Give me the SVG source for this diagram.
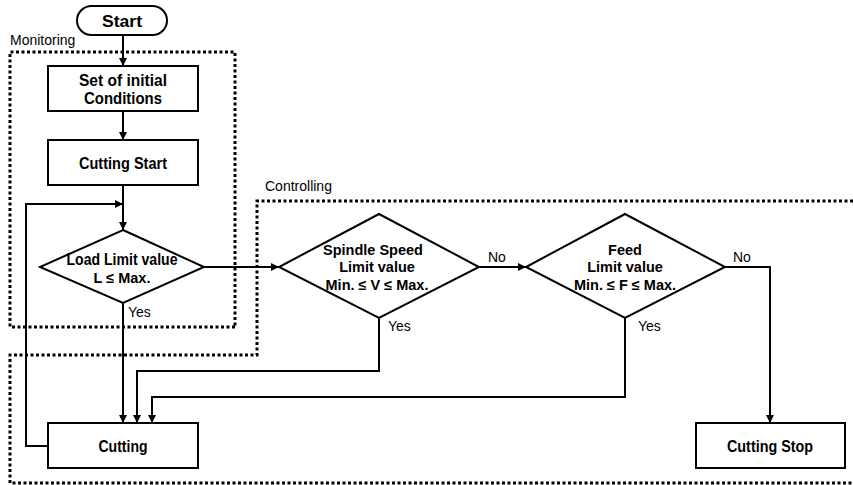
<svg xmlns="http://www.w3.org/2000/svg" width="853" height="485" viewBox="0 0 853 485">
<defs>
<marker id="ah" viewBox="0 0 10 10" refX="10" refY="5" markerWidth="8" markerHeight="8" markerUnits="userSpaceOnUse" orient="auto">
<path d="M0,0 L10,5 L0,10 z" fill="#000"/>
</marker>
<style>
.shape{fill:#fff;stroke:#000;stroke-width:2}
.line{fill:none;stroke:#000;stroke-width:2}
.dot{fill:none;stroke:#000;stroke-width:3;stroke-dasharray:3 2.5}
.bt{font-family:"Liberation Sans",Arial,sans-serif;font-weight:bold;font-size:17px;text-anchor:middle}
.dt{font-family:"Liberation Sans",Arial,sans-serif;font-weight:bold;font-size:14.5px;text-anchor:middle}
.lb{font-family:"Liberation Sans",Arial,sans-serif;font-size:14px}
</style>
</defs>
<g id="regions">
<path class="dot" d="M235,327 H10 V52 H235 Z"/>
<text class="lb" x="10" y="45">Monitoring</text>
<path class="dot" d="M853,201 H257 V355 H10 V483 H853"/>
<text class="lb" x="265" y="191">Controlling</text>
</g>
<g id="connectors">
<path class="line" d="M123,35 V66" marker-end="url(#ah)"/>
<path class="line" d="M123,111 V140" marker-end="url(#ah)"/>
<path class="line" d="M123,185 V230" marker-end="url(#ah)"/>
<path class="line" d="M204,267 H279" marker-end="url(#ah)"/>
<path class="line" d="M479,267 H526" marker-end="url(#ah)"/>
<path class="line" d="M725,267 H770 V423" marker-end="url(#ah)"/>
<path class="line" d="M123,303 V423" marker-end="url(#ah)"/>
<path class="line" d="M379,318 V371 H137 V423" marker-end="url(#ah)"/>
<path class="line" d="M625,318 V397 H152 V423" marker-end="url(#ah)"/>
<path class="line" d="M48,446 H26 V204 H123" marker-end="url(#ah)"/>
<text class="lb" x="128" y="317">Yes</text>
<text class="lb" x="388" y="331">Yes</text>
<text class="lb" x="638" y="331">Yes</text>
<text class="lb" x="488" y="262">No</text>
<text class="lb" x="733" y="262">No</text>
</g>
<g id="start">
<rect class="shape" x="77" y="6" width="90" height="29" rx="14.5"/>
<text class="bt" x="122" y="27" textLength="40" lengthAdjust="spacingAndGlyphs">Start</text>
</g>
<g id="set-initial">
<rect class="shape" x="48" y="66" width="150" height="45"/>
<text class="bt" x="123" y="86" textLength="88" lengthAdjust="spacingAndGlyphs">Set of initial</text>
<text class="bt" x="123" y="104" textLength="78" lengthAdjust="spacingAndGlyphs">Conditions</text>
</g>
<g id="cutting-start">
<rect class="shape" x="48" y="140" width="150" height="45"/>
<text class="bt" x="123" y="169" textLength="88" lengthAdjust="spacingAndGlyphs">Cutting Start</text>
</g>
<g id="load-limit">
<polygon class="shape" points="123,230 204,267 123,303 40,267"/>
<text class="bt" x="122" y="265" textLength="111" lengthAdjust="spacingAndGlyphs">Load Limit value</text>
<text class="dt" x="122" y="283">L ≤ Max.</text>
</g>
<g id="spindle">
<polygon class="shape" points="379,214 479,267 379,318 279,267"/>
<text class="dt" x="373" y="255">Spindle Speed</text>
<text class="dt" x="377" y="272">Limit value</text>
<text class="dt" x="377" y="290">Min. ≤ V ≤ Max.</text>
</g>
<g id="feed">
<polygon class="shape" points="625,214 725,267 625,318 526,267"/>
<text class="dt" x="625" y="255">Feed</text>
<text class="dt" x="625" y="272">Limit value</text>
<text class="dt" x="625" y="290">Min. ≤ F ≤ Max.</text>
</g>
<g id="cutting">
<rect class="shape" x="48" y="423" width="150" height="45"/>
<text class="bt" x="123" y="452" textLength="49" lengthAdjust="spacingAndGlyphs">Cutting</text>
</g>
<g id="cutting-stop">
<rect class="shape" x="696" y="423" width="149" height="45"/>
<text class="bt" x="770" y="452" textLength="86" lengthAdjust="spacingAndGlyphs">Cutting Stop</text>
</g>
</svg>
